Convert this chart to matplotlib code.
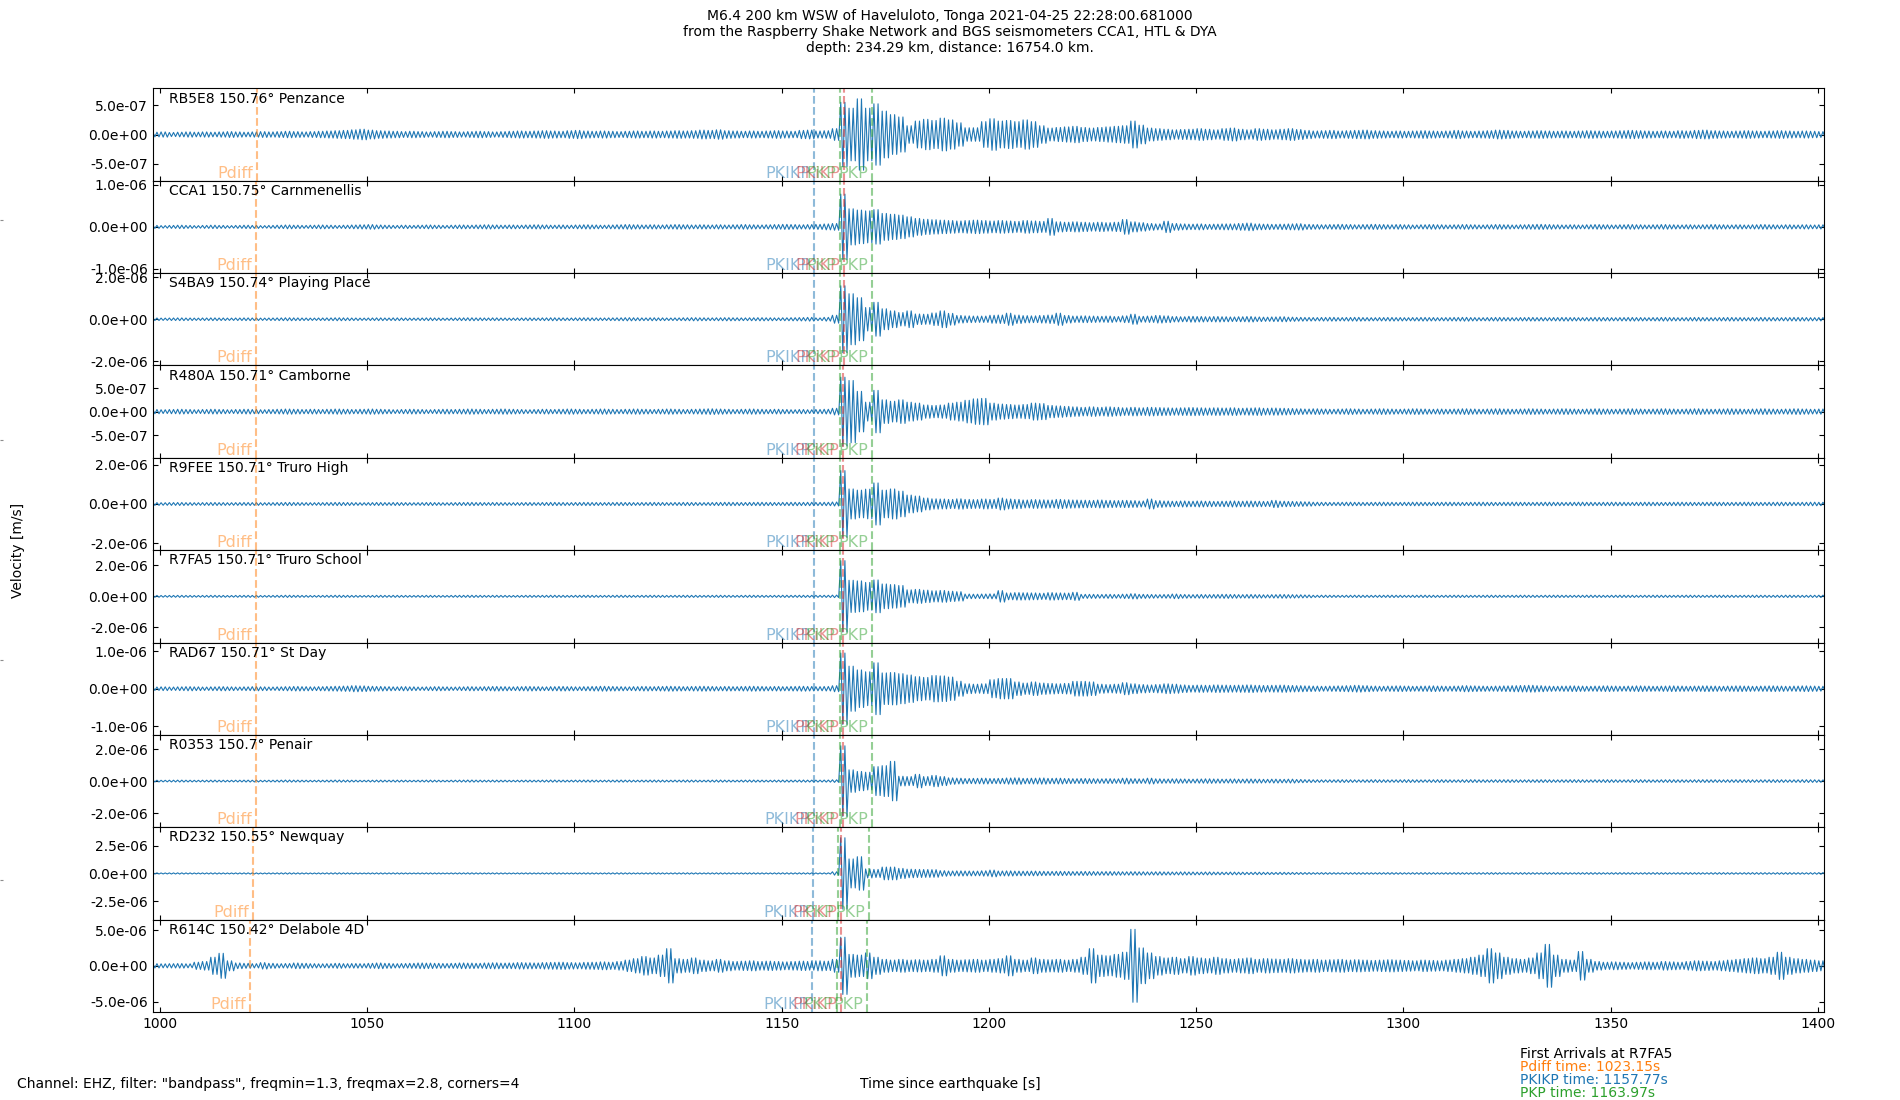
import numpy as np
import matplotlib
matplotlib.use("Agg")
import matplotlib.pyplot as plt
from matplotlib.ticker import FormatStrFormatter
from matplotlib import transforms

# ---------------- data ----------------
stations = ["RB5E8", "CCA1", "S4BA9", "R480A", "R9FEE", "R7FA5", "RAD67", "R0353", "RD232", "R614C"]
distances = ["150.76", "150.75", "150.74", "150.71", "150.71", "150.71", "150.71", "150.7", "150.55", "150.42"]
places = ["Penzance", "Carnmenellis", "Playing Place", "Camborne", "Truro High", "Truro School",
          "St Day", "Penair", "Newquay", "Delabole 4D"]

# arrival times per station [s]
pdiff_t = [1023.3, 1023.25, 1023.2, 1023.15, 1023.15, 1023.15, 1023.15, 1023.1, 1022.45, 1021.8]
pkikp_t = [1157.8, 1157.8, 1157.79, 1157.77, 1157.77, 1157.77, 1157.77, 1157.76, 1157.5, 1157.3]
pkp_t = [1164.1, 1164.08, 1164.05, 1163.97, 1163.97, 1163.97, 1163.97, 1163.95, 1163.5, 1163.3]
pkikp_inner_t = [1165.0, 1164.98, 1164.95, 1164.9, 1164.9, 1164.9, 1164.9, 1164.88, 1164.4, 1164.3]
pkp2_t = [1171.9, 1171.88, 1171.85, 1171.8, 1171.8, 1171.8, 1171.8, 1171.78, 1171.1, 1170.5]

# y-axis half ranges and tick steps [nm/s]
ylim_nm = [790, 1100, 2210, 980, 2340, 2990, 1230, 2880, 4140, 6460]
ytick_nm = [500, 1000, 2000, 500, 2000, 2000, 1000, 2000, 2500, 5000]

# waveform peak amplitude per 2 s window starting at 998 s [nm/s]
amp_rb5e8 = [
    40, 45, 35, 40, 45, 40, 45, 40, 45, 50,
    45, 40, 45, 50, 45, 50, 55, 50, 45, 50,
    55, 60, 65, 70, 80, 90, 75, 65, 60, 55,
    50, 55, 50, 45, 50, 55, 50, 45, 50, 55,
    50, 45, 50, 55, 60, 55, 60, 65, 60, 55,
    65, 70, 60, 55, 60, 55, 50, 55, 60, 55,
    60, 55, 60, 65, 60, 65, 75, 70, 80, 65,
    60, 55, 60, 55, 60, 65, 60, 55, 70, 75,
    60, 65, 100, 550, 450, 610, 450, 525, 400, 340,
    300, 150, 230, 260, 240, 280, 250, 200, 115, 115,
    220, 270, 230, 240, 220, 250, 220, 150, 110, 120,
    130, 140, 120, 110, 120, 130, 140, 150, 230, 160,
    110, 100, 90, 80, 85, 90, 100, 90, 80, 100,
    110, 90, 80, 100, 90, 80, 90, 100, 85, 70,
    60, 65, 70, 60, 65, 70, 75, 65, 60, 55,
    60, 55, 60, 65, 60, 55, 60, 70, 60, 55,
    60, 65, 75, 70, 60, 55, 60, 65, 60, 55,
    60, 55, 60, 65, 60, 55, 60, 65, 70, 65,
    60, 55, 60, 55, 65, 60, 70, 75, 65, 60,
    55, 60, 65, 60, 55, 60, 65, 60, 55, 60,
    55, 50]
amp_cca1 = [
    35, 30, 35, 40, 35, 30, 35, 40, 35, 30,
    35, 40, 35, 30, 35, 40, 45, 40, 35, 40,
    45, 40, 35, 40, 45, 50, 55, 45, 40, 35,
    40, 35, 40, 45, 40, 35, 40, 45, 40, 45,
    50, 45, 40, 45, 40, 45, 50, 45, 40, 45,
    40, 45, 50, 45, 40, 45, 50, 55, 50, 45,
    50, 45, 50, 55, 50, 45, 50, 45, 50, 45,
    50, 55, 50, 45, 50, 55, 60, 55, 50, 55,
    60, 70, 80, 780, 430, 400, 380, 410, 320, 300,
    280, 240, 200, 180, 170, 160, 150, 140, 150, 160,
    150, 140, 150, 140, 130, 150, 140, 130, 200, 120,
    110, 120, 110, 100, 110, 100, 110, 175, 120, 100,
    80, 70, 135, 80, 70, 65, 70, 60, 65, 70,
    70, 80, 90, 70, 65, 60, 65, 70, 75, 60,
    55, 50, 55, 60, 55, 50, 55, 60, 55, 50,
    55, 50, 45, 50, 55, 50, 45, 50, 55, 50,
    45, 50, 55, 50, 45, 50, 55, 60, 55, 50,
    45, 50, 45, 50, 55, 50, 45, 50, 55, 50,
    45, 50, 55, 50, 45, 50, 45, 50, 55, 50,
    45, 50, 45, 50, 55, 50, 45, 50, 45, 50,
    45, 50]
amp_s4ba9 = [
    60, 55, 60, 65, 60, 55, 60, 65, 60, 55,
    60, 65, 60, 55, 60, 65, 70, 65, 60, 55,
    60, 65, 70, 65, 60, 55, 60, 65, 60, 65,
    60, 55, 60, 65, 60, 55, 60, 65, 70, 65,
    60, 65, 60, 55, 60, 65, 60, 65, 70, 65,
    60, 65, 70, 65, 60, 65, 70, 75, 70, 65,
    70, 65, 60, 65, 70, 75, 70, 65, 70, 75,
    70, 65, 70, 75, 70, 65, 70, 75, 80, 90,
    65, 90, 190, 1600, 1220, 1030, 560, 810, 500, 400,
    320, 400, 250, 240, 300, 400, 280, 180, 160, 150,
    150, 190, 200, 290, 200, 170, 160, 180, 200, 290,
    180, 150, 160, 150, 140, 150, 130, 160, 240, 140,
    150, 180, 160, 130, 120, 140, 130, 120, 130, 120,
    110, 120, 130, 110, 100, 110, 120, 100, 90, 85,
    80, 85, 90, 80, 85, 90, 80, 75, 80, 85,
    80, 75, 80, 85, 80, 75, 80, 85, 90, 80,
    75, 80, 85, 80, 75, 80, 85, 80, 75, 80,
    85, 80, 75, 80, 85, 80, 75, 80, 85, 80,
    75, 80, 85, 80, 75, 80, 85, 80, 75, 80,
    85, 80, 75, 80, 85, 80, 75, 80, 85, 80,
    75, 80]
amp_r480a = [
    45, 40, 45, 50, 45, 40, 45, 50, 45, 40,
    45, 50, 45, 40, 45, 50, 55, 50, 45, 50,
    45, 50, 55, 50, 45, 50, 55, 50, 45, 40,
    45, 50, 45, 40, 45, 50, 45, 50, 55, 50,
    45, 50, 55, 50, 45, 40, 45, 50, 45, 50,
    55, 50, 45, 50, 55, 50, 45, 50, 55, 50,
    45, 50, 55, 50, 45, 50, 55, 60, 55, 50,
    45, 50, 55, 50, 45, 50, 45, 40, 45, 40,
    45, 50, 70, 730, 660, 430, 200, 450, 250, 220,
    250, 200, 180, 140, 130, 140, 180, 200, 240, 270,
    280, 180, 160, 150, 140, 150, 180, 170, 130, 120,
    110, 100, 90, 100, 90, 100, 90, 80, 90, 80,
    90, 85, 80, 75, 80, 85, 80, 75, 80, 75,
    80, 70, 75, 80, 70, 75, 70, 65, 60, 55,
    60, 55, 50, 55, 60, 55, 50, 55, 60, 55,
    50, 55, 60, 55, 50, 55, 50, 55, 60, 55,
    50, 55, 60, 55, 50, 55, 60, 55, 50, 55,
    60, 55, 50, 55, 60, 55, 50, 55, 60, 55,
    50, 55, 60, 55, 50, 55, 60, 55, 50, 55,
    60, 55, 50, 55, 60, 55, 50, 55, 60, 55,
    50, 55]
amp_r9fee = [
    70, 65, 70, 75, 70, 65, 70, 75, 70, 65,
    70, 75, 70, 65, 70, 75, 80, 75, 70, 65,
    70, 75, 80, 75, 70, 65, 70, 75, 70, 75,
    70, 65, 70, 75, 70, 65, 70, 75, 80, 75,
    70, 75, 70, 65, 70, 75, 70, 75, 80, 75,
    70, 75, 80, 75, 70, 75, 80, 75, 70, 75,
    80, 75, 70, 75, 80, 75, 70, 75, 80, 85,
    80, 75, 80, 85, 80, 75, 80, 85, 80, 85,
    80, 85, 100, 1690, 760, 700, 750, 1065, 700, 760,
    650, 450, 400, 300, 260, 250, 230, 260, 230, 220,
    250, 230, 300, 250, 230, 200, 220, 210, 200, 230,
    210, 200, 190, 180, 200, 180, 170, 180, 170, 150,
    250, 170, 150, 140, 150, 140, 150, 140, 130, 140,
    150, 140, 150, 140, 130, 180, 140, 130, 120, 110,
    90, 85, 80, 85, 90, 85, 80, 85, 90, 85,
    80, 85, 90, 85, 80, 85, 90, 85, 80, 85,
    90, 85, 80, 85, 90, 85, 80, 85, 90, 85,
    80, 85, 90, 85, 80, 85, 90, 85, 80, 85,
    90, 85, 80, 85, 90, 85, 80, 85, 90, 85,
    80, 85, 90, 85, 80, 85, 90, 85, 80, 85,
    90, 85]
amp_r7fa5 = [
    60, 55, 60, 65, 60, 55, 60, 65, 60, 55,
    60, 65, 60, 55, 60, 65, 70, 65, 60, 55,
    60, 65, 70, 65, 60, 55, 60, 65, 60, 65,
    60, 55, 60, 65, 60, 55, 60, 65, 70, 65,
    60, 65, 60, 55, 60, 65, 60, 65, 70, 65,
    60, 65, 70, 65, 60, 65, 70, 65, 60, 65,
    70, 65, 60, 65, 70, 65, 60, 65, 70, 65,
    60, 65, 70, 65, 60, 65, 70, 65, 70, 65,
    65, 70, 80, 2310, 1040, 1000, 900, 1060, 800, 760,
    700, 420, 450, 400, 360, 380, 330, 300, 150, 140,
    150, 160, 370, 220, 240, 230, 220, 200, 240, 220,
    210, 260, 130, 130, 120, 130, 120, 140, 170, 130,
    120, 110, 120, 150, 120, 110, 120, 110, 120, 130,
    120, 110, 120, 110, 100, 110, 120, 110, 100, 90,
    70, 75, 70, 65, 70, 75, 70, 65, 70, 75,
    70, 65, 70, 75, 70, 65, 70, 75, 70, 65,
    70, 75, 70, 65, 70, 75, 70, 65, 70, 75,
    70, 65, 70, 75, 70, 65, 70, 75, 70, 65,
    70, 75, 70, 65, 70, 75, 70, 65, 70, 75,
    70, 65, 70, 75, 70, 65, 70, 75, 70, 65,
    70, 75]
amp_rad67 = [
    45, 50, 45, 50, 55, 50, 45, 50, 55, 50,
    45, 50, 55, 50, 45, 50, 55, 60, 55, 50,
    55, 60, 65, 70, 80, 75, 65, 60, 55, 50,
    55, 50, 45, 50, 55, 50, 45, 50, 55, 50,
    55, 60, 55, 50, 55, 60, 55, 50, 55, 60,
    55, 50, 55, 60, 65, 60, 55, 50, 55, 60,
    55, 60, 65, 60, 55, 60, 65, 60, 55, 60,
    55, 60, 65, 60, 55, 60, 55, 60, 65, 60,
    55, 60, 80, 950, 600, 500, 450, 690, 420, 430,
    400, 365, 320, 300, 350, 340, 310, 200, 130, 120,
    130, 240, 270, 270, 180, 150, 180, 150, 140, 130,
    140, 195, 195, 180, 120, 110, 120, 160, 130, 110,
    100, 110, 130, 120, 100, 90, 95, 90, 100, 95,
    90, 95, 100, 90, 85, 90, 95, 85, 80, 75,
    70, 65, 70, 75, 80, 90, 80, 70, 65, 70,
    75, 70, 65, 70, 75, 70, 65, 70, 80, 75,
    70, 65, 70, 75, 80, 85, 90, 80, 70, 65,
    70, 75, 70, 65, 70, 75, 70, 65, 70, 75,
    70, 65, 70, 75, 70, 65, 70, 75, 70, 65,
    70, 75, 70, 65, 70, 75, 70, 65, 70, 75,
    70, 65]
amp_r0353 = [
    55, 50, 55, 60, 55, 50, 55, 60, 55, 50,
    55, 60, 55, 50, 55, 60, 65, 60, 55, 50,
    55, 60, 65, 60, 55, 50, 55, 60, 55, 60,
    55, 50, 55, 60, 55, 50, 55, 60, 65, 60,
    55, 60, 55, 50, 55, 60, 55, 60, 65, 60,
    55, 60, 65, 60, 55, 60, 65, 60, 55, 60,
    65, 60, 55, 60, 65, 60, 55, 60, 65, 60,
    55, 60, 65, 60, 55, 60, 65, 60, 65, 60,
    60, 65, 80, 2200, 700, 600, 550, 900, 960, 1230,
    300, 280, 420, 280, 350, 280, 200, 180, 160, 170,
    180, 160, 170, 190, 200, 170, 180, 190, 170, 180,
    160, 150, 160, 150, 140, 150, 140, 180, 150, 140,
    180, 140, 130, 140, 130, 120, 130, 140, 130, 120,
    130, 120, 130, 120, 110, 120, 110, 120, 100, 90,
    80, 75, 80, 85, 80, 75, 80, 85, 80, 75,
    80, 85, 80, 75, 80, 85, 80, 75, 80, 85,
    80, 75, 80, 85, 80, 75, 80, 85, 80, 75,
    80, 85, 80, 75, 80, 85, 80, 75, 80, 85,
    80, 75, 80, 85, 80, 75, 80, 85, 80, 75,
    80, 85, 80, 75, 80, 85, 80, 75, 80, 85,
    80, 75]
amp_rd232 = [
    50, 45, 50, 55, 50, 45, 50, 55, 50, 45,
    50, 55, 50, 45, 50, 55, 60, 55, 50, 45,
    50, 55, 60, 55, 50, 45, 50, 55, 50, 55,
    50, 45, 50, 55, 50, 45, 50, 55, 60, 55,
    50, 55, 50, 45, 50, 55, 50, 55, 60, 55,
    50, 55, 60, 55, 50, 55, 60, 55, 50, 55,
    60, 55, 50, 55, 60, 55, 50, 55, 60, 55,
    50, 55, 60, 55, 50, 55, 60, 55, 60, 55,
    50, 55, 150, 3200, 1300, 1500, 400, 360, 570, 570,
    450, 380, 360, 350, 340, 250, 220, 230, 220, 210,
    240, 300, 220, 230, 210, 200, 210, 190, 180, 190,
    180, 170, 180, 170, 160, 170, 160, 150, 160, 150,
    140, 150, 140, 130, 140, 130, 120, 130, 120, 110,
    120, 110, 100, 110, 100, 90, 100, 90, 85, 80,
    70, 75, 70, 65, 70, 75, 70, 65, 70, 75,
    70, 65, 70, 75, 70, 65, 70, 75, 70, 65,
    70, 75, 70, 65, 70, 75, 70, 65, 70, 75,
    70, 65, 70, 75, 70, 65, 70, 75, 70, 65,
    70, 75, 70, 65, 70, 75, 70, 65, 70, 75,
    70, 65, 70, 75, 70, 65, 70, 75, 70, 65,
    70, 75]
amp_r614c = [
    300, 280, 300, 320, 280, 500, 600, 1200, 1750, 700,
    400, 350, 300, 450, 350, 300, 320, 400, 350, 300,
    280, 300, 350, 300, 320, 300, 350, 400, 350, 300,
    320, 350, 400, 380, 350, 320, 350, 400, 380, 350,
    400, 420, 380, 400, 450, 420, 400, 450, 480, 500,
    450, 420, 480, 500, 550, 500, 600, 800, 1000, 1300,
    1100, 1500, 2400, 1000, 900, 1100, 800, 700, 900, 700,
    600, 650, 700, 600, 650, 600, 550, 600, 650, 600,
    700, 650, 900, 4000, 1600, 1500, 1800, 1200, 900, 800,
    900, 800, 850, 800, 900, 1400, 900, 800, 850, 900,
    800, 900, 1000, 1400, 900, 800, 1100, 900, 850, 900,
    800, 900, 1200, 2400, 1500, 1400, 1600, 1900, 5100, 2500,
    1800, 1300, 1100, 1200, 1000, 1300, 1100, 1000, 1200, 1000,
    900, 1000, 1100, 900, 1000, 950, 900, 1000, 900, 850,
    900, 800, 850, 900, 800, 850, 800, 750, 800, 850,
    800, 750, 700, 800, 750, 700, 800, 900, 1000, 1200,
    1500, 2400, 1800, 1200, 1000, 900, 1100, 1800, 3000, 1500,
    900, 800, 2000, 900, 600, 500, 550, 500, 450, 500,
    550, 500, 600, 550, 500, 600, 700, 650, 600, 700,
    800, 900, 1000, 1100, 1000, 1200, 1900, 1200, 1000, 900,
    800, 700]

amplitudes = [amp_rb5e8, amp_cca1, amp_s4ba9, amp_r480a, amp_r9fee,
              amp_r7fa5, amp_rad67, amp_r0353, amp_rd232, amp_r614c]
window_start = 998.0
window_len = 2.0

xticks = [1000, 1050, 1100, 1150, 1200, 1250, 1300, 1350, 1400]

title = ("M6.4 200 km WSW of Haveluloto, Tonga 2021-04-25 22:28:00.681000\n"
         "from the Raspberry Shake Network and BGS seismometers CCA1, HTL & DYA\n"
         "depth: 234.29 km, distance: 16754.0 km.")
ref_station = "R7FA5"
first_arrivals = [("Pdiff", 1023.15, "C1"), ("PKIKP", 1157.77, "C0"), ("PKP", 1163.97, "C2")]

# ---------------- figure ----------------
fig, axes = plt.subplots(10, 1, sharex=True, figsize=(19, 11), dpi=100)
fig.subplots_adjust(left=0.0804, right=0.96, top=0.9197, bottom=0.08, hspace=0)

bg = fig.add_axes([0, 0, 1, 1], frameon=False, zorder=-5)
bg.set_xticks([])
bg.set_yticks([0.2, 0.4, 0.6, 0.8])
bg.set_yticklabels([])
bg.set_xlim(0, 1)
bg.set_ylim(0, 1)
bg.tick_params(axis="y", direction="in", length=2, color="0.55", width=0.8)

# drawing pattern inside each 2 s window (alternating peaks)
offsets = np.array([0.25, 0.75, 1.25, 1.75])
signs = np.array([1.0, -1.0, 1.0, -1.0])

for i, ax in enumerate(axes):
    amp = np.array(amplitudes[i], dtype=float) * 1e-9
    starts = window_start + window_len * np.arange(len(amp))
    tt = (starts[:, None] + offsets[None, :]).ravel()
    yy = (amp[:, None] * signs[None, :]).ravel()
    ax.plot(tt, yy, color="C0", lw=0.8)

    lim = ylim_nm[i] * 1e-9
    ax.set_ylim(-lim, lim)
    step = ytick_nm[i] * 1e-9
    ax.set_yticks([-step, 0, step])
    ax.yaxis.set_major_formatter(FormatStrFormatter("%.1e"))
    ax.tick_params(direction="in", top=True, right=True, labelsize=10)

    ax.text(0.01, 0.965, f"{stations[i]} {distances[i]}\u00b0 {places[i]}",
            transform=ax.transAxes, ha="left", va="top", fontsize=10)

    arr = [("Pdiff", pdiff_t[i], "C1"), ("PKIKP", pkikp_t[i], "C0"),
           ("PKiKP", pkikp_inner_t[i], "C3"), ("PKP", pkp_t[i], "C2"),
           ("PKP", pkp2_t[i], "C2")]
    lab_tr = transforms.offset_copy(ax.transData, fig=fig, x=-4, y=0, units="dots")
    for name, t, col in arr:
        ax.axvline(t, color=col, ls="--", lw=1.5, alpha=0.5)
        ax.text(t, -lim, name, color=col, alpha=0.5, ha="right", va="bottom",
                fontsize=11.5, transform=lab_tr)

axes[-1].set_xlim(998.24, 1401.5)
axes[-1].set_xticks(xticks)

fig.suptitle(title, fontsize=10, y=0.992, va="top")
fig.text(0.0095, 0.5, "Velocity [m/s]", rotation=90, ha="center", va="center", fontsize=10)
fig.text(0.0092, 0.0149, 'Channel: EHZ, filter: "bandpass", freqmin=1.3, freqmax=2.8, corners=4',
         ha="left", va="center", fontsize=10)
fig.text(0.5, 0.0149, "Time since earthquake [s]", ha="center", va="center", fontsize=10)

fig.text(0.8, 0.0415, f"First Arrivals at {ref_station}", ha="left", va="center", fontsize=10)
ys = [0.0298, 0.0180, 0.0062]
for (name, t, col), y in zip(first_arrivals, ys):
    fig.text(0.8, y, f"{name} time: {t:.2f}s", color=col, ha="left", va="center", fontsize=10)

fig.savefig("out.png", dpi=100)
